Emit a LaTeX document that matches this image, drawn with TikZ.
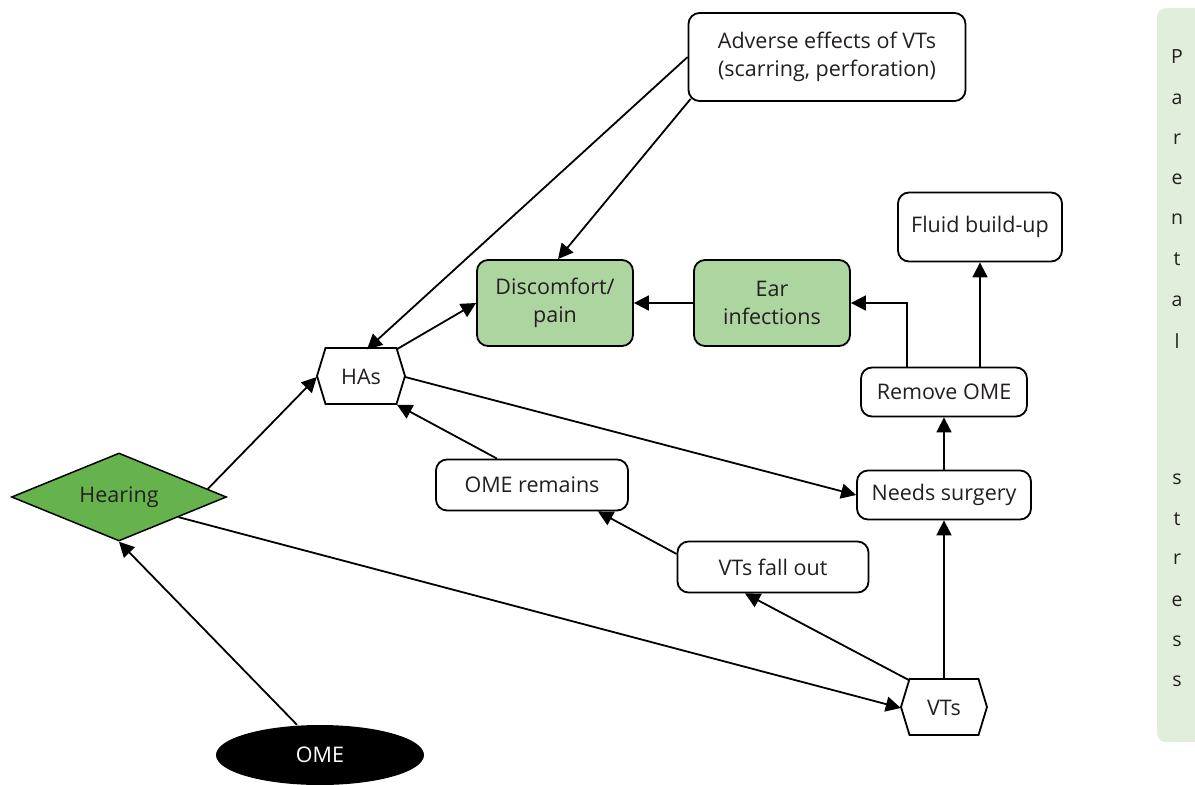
\documentclass[tikz,border=0pt]{standalone}
\usepackage{fontspec}
\setmainfont{Open Sans}
\usetikzlibrary{arrows.meta,shapes.geometric,calc}
\definecolor{inkgrey}{HTML}{231F20}
\definecolor{leafgreen}{HTML}{66B34E}
\definecolor{palegreen}{HTML}{ADD5A0}
\definecolor{mistgreen}{HTML}{E0EEDB}
\begin{document}
\begin{tikzpicture}[x=1pt,y=-1pt,
  every node/.style={text=inkgrey,font=\fontsize{21.5}{28}\selectfont,align=center,inner sep=0pt},
  stepbox/.style={draw=black,line width=1.8pt,rounded corners=11pt,fill=white},
  greenbox/.style={stepbox,fill=palegreen},
  hexlabel/.style={minimum width=71pt,minimum height=55pt},
  hexline/.style={draw=black,line width=1.8pt,fill=white},
  link/.style={line width=1.8pt,-{Triangle[length=15pt,width=15pt]}}]
\useasboundingbox (0,0) rectangle (1195,785);

% side band
\fill[mistgreen,rounded corners=9pt] (1157,8) rectangle (1210,742);
\foreach \ch/\yy in {P/57,a/99,r/139,e/179,n/219,t/259,a/301,l/341,s/479,t/519,r/559,e/601,s/641,s/681}
  \node[font=\fontsize{19.5}{19.5}\selectfont] (ps-\yy) at (1177,\yy) {\ch};

% boxes
\node[stepbox,minimum width=277pt,minimum height=88pt] (adv) at (827,57) {Adverse effects of VTs\\(scarring, perforation)};
\node[stepbox,minimum width=164pt,minimum height=69pt] (fluid) at (980,227) {Fluid build-up};
\node[greenbox,minimum width=156pt,minimum height=86pt] (disc) at (555,303) {Discomfort/\\pain};
\node[greenbox,minimum width=156pt,minimum height=86pt] (ear) at (772,303) {Ear\\infections};
\node[stepbox,minimum width=166pt,minimum height=49pt] (rem) at (944,392) {Remove OME};
\node[stepbox,minimum width=192pt,minimum height=51pt] (omr) at (532,485) {OME remains};
\node[stepbox,minimum width=174pt,minimum height=49pt] (needs) at (944,495) {Needs surgery};
\node[stepbox,minimum width=191pt,minimum height=51pt] (vfo) at (773,567) {VTs fall out};

% pointed boxes
\path[hexline] (361-35.5,348) -- (361+35.5,348) -- (361+44,376) -- (361+35.5,404) -- (361-35.5,404) -- (361-44,376) -- cycle;
\node[hexlabel] (has) at (361,377) {HAs};
\path[hexline] (944-34.5,679) -- (944+34.5,679) -- (944+43,707) -- (944+34.5,735) -- (944-34.5,735) -- (944-43,707) -- cycle;
\node[hexlabel,minimum width=69pt] (vts) at (944,708) {VTs};

% hearing and OME
\node[diamond,aspect=2.44,minimum width=215pt,minimum height=88pt,fill=leafgreen,draw=black,line width=1.5pt] (hear) at (119,497) {Hearing};
\node[ellipse,minimum width=208pt,minimum height=60pt,fill=black,text=white] (ome) at (320,755) {OME};

% connectors
\draw[link] (adv.west) -- ([xshift=6pt]has.north);
\draw[link] ([xshift=3pt,yshift=3pt]adv.south west) -- ([xshift=3pt]disc.north);
\draw[link] (has.north east) -- (disc.west);
\draw[link] (ear.west) -- (disc.east);
\draw[link] ([xshift=-37pt]rem.north) |- (ear.east);
\draw[link] ([xshift=36pt]rem.north) -- (fluid.south);
\draw[link] (needs.north) -- (rem.south);
\draw[link] (vts.north) -- (needs.south);
\draw[link] ([xshift=8.5pt]has.east) -- (needs.west);
\draw[link] ([xshift=-35pt]omr.north) -- ([xshift=36pt]has.south);
\draw[link] ([yshift=13pt]vfo.west) -- ([xshift=-31pt]omr.south east);
\draw[link] (vts.north west) -- ([xshift=-28pt]vfo.south);
\draw[link] ($(hear.east)!0.18!(hear.north)$) -- ([xshift=-8.5pt]has.west);
\draw[link] ($(hear.east)!0.45!(hear.south)$) -- ([xshift=-8.5pt]vts.west);
\draw[link] ([xshift=-23pt]ome.north) -- (hear.south);
\end{tikzpicture}
\end{document}
